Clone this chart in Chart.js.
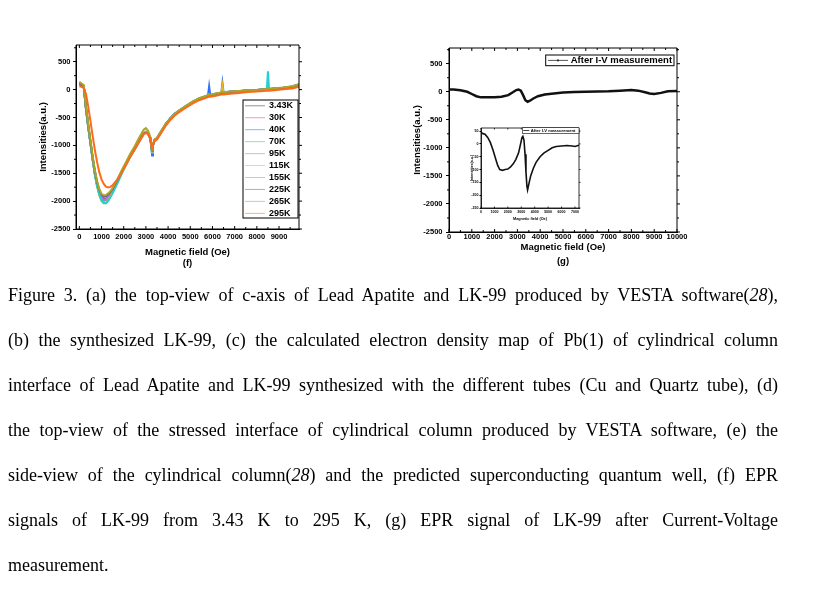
<!DOCTYPE html>
<html lang="en">
<head>
<meta charset="UTF-8">
<title>Figure 3 (f) (g) - EPR signals of LK-99</title>
<script src="https://cdn.jsdelivr.net/npm/chart.js"></script>
<style>
body {
    margin: 0;
    background: #fff;
    width: 832px;
    height: 590px;
    position: relative;
    overflow: hidden;
}
canvas { position: absolute; }
#chartF { left: 0; top: 30px; }
#chartG { left: 400px; top: 30px; }
#inset { left: 462px; top: 122px; }
#caption {
    position: absolute;
    left: 8px;
    top: 273px;
    width: 770px;
    font-family: 'Liberation Serif', 'Times New Roman', serif;
    font-size: 18px;
    color: #000;
}
#caption div {
    height: 45px;
    line-height: 45px;
    white-space: nowrap;
    text-align: justify;
    text-align-last: justify;
}
#caption div.last { text-align-last: left; }
</style>
</head>
<body>

<canvas id="chartF" width="312" height="245"></canvas>
<canvas id="chartG" width="290" height="245"></canvas>
<canvas id="inset" width="122" height="102"></canvas>

<div id="caption">
    <div>Figure 3. (a) the top-view of c-axis of Lead Apatite and LK-99 produced by VESTA software(<i>28</i>),</div>
    <div>(b) the synthesized LK-99, (c) the calculated electron density map of Pb(1) of cylindrical column</div>
    <div>interface of Lead Apatite and LK-99 synthesized with the different tubes (Cu and Quartz tube), (d)</div>
    <div>the top-view of the stressed interface of cylindrical column produced by VESTA software, (e) the</div>
    <div>side-view of the cylindrical column(<i>28</i>) and the predicted superconducting quantum well, (f) EPR</div>
    <div>signals of LK-99 from 3.43 K to 295 K, (g) EPR signal of LK-99 after Current-Voltage</div>
    <div class="last">measurement.</div>
</div>

<script>
// ---- data: panel (f), EPR vs temperature ----
const tempLabels = ['3.43K', '30K', '40K', '70K', '95K', '115K', '155K', '225K', '265K', '295K'];
const fieldsF = [0, 100, 200, 300, 400, 500, 600, 700, 800, 900, 1000, 1100, 1200, 1300, 1400, 1500, 1700, 1900, 2100, 2300,
    2500, 2700, 2900, 3000, 3100, 3200, 3280, 3320, 3400, 3500, 3700, 3900, 4100, 4300, 4500, 4800, 5100, 5400, 5800, 5850,
    5900, 6100, 6400, 6450, 6500, 6800, 7200, 7600, 8000, 8450, 8500, 8550, 8800, 9200, 9600, 9900];
const epr3K = [110, 95, 55, -330, -650, -945, -1235, -1495, -1705, -1845, -1945, -1970, -1960, -1930, -1865, -1815, -1655, -1495, -1335, -1195,
    -1055, -925, -785, -770, -785, -875, -1090, -985, -905, -875, -755, -615, -525, -435, -385, -295, -230, -160, -115, -95,
    -110, -80, -65, -40, -60, -40, -35, -15, -5, 10, 20, 5, 15, 35, 45, 85];
const epr30K = [100, 85, 60, -350, -670, -960, -1250, -1510, -1715, -1860, -1955, -1985, -1975, -1935, -1880, -1820, -1665, -1500, -1345, -1185,
    -1065, -915, -795, -760, -795, -865, -1120, -995, -895, -885, -745, -625, -515, -445, -375, -305, -220, -170, -105, -80,
    -100, -90, -55, -30, -60, -50, -25, -20, -15, 0, 40, 0, 20, 25, 55, 90];
const epr40K = [120, 90, 65, -345, -665, -955, -1245, -1505, -1710, -1855, -1950, -1990, -1980, -1940, -1880, -1815, -1660, -1485, -1330, -1180,
    -1050, -915, -780, -760, -780, -880, -1180, -1000, -900, -870, -740, -620, -515, -430, -380, -300, -220, -165, -100, 60,
    -95, -80, -55, 120, -50, -35, -30, -10, -5, 10, 15, 10, 25, 35, 55, 95];
const epr70K = [105, 80, 50, -335, -655, -950, -1240, -1500, -1705, -1855, -1950, -1985, -1975, -1935, -1875, -1815, -1660, -1490, -1335, -1185,
    -1060, -920, -790, -765, -790, -870, -1105, -990, -900, -880, -745, -615, -515, -440, -380, -300, -225, -160, -110, -85,
    -105, -85, -60, -50, -55, -45, -30, -15, -10, 5, 10, 5, 20, 30, 50, 80];
const epr95K = [110, 90, 55, -340, -660, -950, -1240, -1500, -1700, -1850, -1945, -1980, -1970, -1930, -1870, -1810, -1655, -1490, -1340, -1190,
    -1060, -920, -790, -765, -790, -870, -1100, -990, -900, -880, -750, -620, -520, -440, -380, -300, -225, -165, -110, -100,
    -105, -85, -60, -55, -58, -45, -30, -18, -10, 5, 8, 5, 15, 30, 50, 85];
const epr115K = [130, 100, 70, -330, -650, -950, -1250, -1520, -1740, -1900, -2000, -2040, -2030, -1980, -1910, -1840, -1680, -1505, -1350, -1195,
    -1065, -925, -785, -755, -785, -875, -1130, -1000, -905, -885, -755, -625, -525, -440, -385, -305, -225, -165, -110, -90,
    -100, -85, -55, 80, -55, -45, -30, -20, -10, 5, 10, 5, 15, 30, 50, 90];
const epr155K = [90, 80, 40, -350, -670, -960, -1250, -1520, -1730, -1890, -1990, -2030, -2040, -2000, -1930, -1860, -1695, -1520, -1355, -1200,
    -1070, -930, -790, -770, -795, -880, -1110, -995, -910, -880, -745, -620, -515, -435, -375, -295, -220, -160, -105, -90,
    -100, -80, -55, -50, -55, -40, -25, -10, -5, 10, 330, 10, 20, 35, 55, 90];
const epr225K = [100, 85, 55, -320, -630, -920, -1210, -1460, -1660, -1800, -1890, -1925, -1915, -1885, -1840, -1785, -1640, -1475, -1330, -1180,
    -1055, -915, -790, -770, -790, -870, -1090, -985, -900, -875, -750, -620, -520, -440, -380, -300, -225, -165, -110, -100,
    -105, -85, -60, -55, -58, -45, -30, -18, -10, 5, 8, 5, 15, 30, 50, 85];
const epr265K = [140, 110, 80, -300, -610, -900, -1190, -1440, -1640, -1780, -1870, -1895, -1890, -1860, -1820, -1765, -1620, -1455, -1300, -1145,
    -1010, -860, -720, -690, -740, -850, -1080, -975, -890, -870, -740, -615, -515, -435, -375, -295, -215, -155, -100, -80,
    -95, -75, -50, -40, -48, -35, -25, -12, -5, 10, 15, 10, 25, 40, 60, 95];
const epr295K = [60, 50, 30, -80, -300, -560, -830, -1080, -1300, -1480, -1610, -1690, -1740, -1755, -1745, -1715, -1620, -1490, -1350, -1200,
    -1070, -930, -800, -775, -800, -880, -1060, -990, -920, -895, -770, -645, -545, -465, -405, -325, -250, -190, -135, -130,
    -130, -115, -90, -85, -88, -75, -60, -45, -35, -20, -15, -20, -10, 5, 20, 50];

// ---- data: panel (g), after I-V measurement ----
const fieldsG = [0, 200, 500, 800, 1000, 1200, 1400, 1700, 2000, 2300, 2600, 2800, 2950, 3050, 3150, 3250, 3350, 3450, 3550, 3700,
    3900, 4200, 4600, 5000, 5500, 6000, 6500, 7000, 7500, 8000, 8300, 8600, 8800, 9000, 9300, 9600, 10000];
const eprAfterIV = [40, 40, 25, 0, -40, -80, -100, -100, -100, -90, -60, -10, 30, 40, 20, -60, -150, -180, -160, -120,
    -80, -50, -30, -15, -5, 0, 5, 10, 20, 30, 20, -10, -30, -40, -20, 10, 15];

// inset of (g)
const fieldsInset = [0, 150, 300, 500, 700, 900, 1100, 1250, 1400, 1600, 1800, 2000, 2200, 2400, 2600, 2800, 2950, 3050, 3120, 3200,
    3280, 3350, 3420, 3470, 3550, 3700, 3900, 4100, 4400, 4700, 5000, 5300, 5600, 6000, 6400, 6800, 7000, 7300];
const eprInset = [45, 40, 38, 25, 5, -25, -60, -85, -100, -103, -100, -98, -90, -78, -60, -35, 0, 25, 30, 15,
    -40, -110, -165, -180, -160, -125, -95, -72, -50, -35, -25, -15, -10, -8, -6, -8, -10, -5];

// tick labels
const xTicksF = [0, 1000, 2000, 3000, 4000, 5000, 6000, 7000, 8000, 9000];
const xTicksG = [0, 1000, 2000, 3000, 4000, 5000, 6000, 7000, 8000, 9000, 10000];
const yTicksMain = [-2500, -2000, -1500, -1000, -500, 0, 500];
const xTicksInset = [0, 1000, 2000, 3000, 4000, 5000, 6000, 7000];
const yTicksInset = [-250, -200, -150, -100, -50, 0, 50];

const seriesF = [epr3K, epr30K, epr40K, epr70K, epr95K, epr115K, epr155K, epr225K, epr265K, epr295K];
const colorsF = ['#3c3c3c', '#ff4a4a', '#2f6fff', '#3cc878', '#b070ff', '#e6b422', '#22d2d2', '#7f5f7f', '#a8a828', '#ff6a1a'];

const SANS = "'Liberation Sans', Arial, sans-serif";
function bold(size, lh) {
    return {family: SANS, size: size, weight: 'bold', lineHeight: lh || 1.2};
}
function pts(xs, ys) {
    return xs.map((x, i) => ({x: x, y: ys[i]}));
}
function fixTicks(list) {
    return s => { s.ticks = list.map(v => ({value: v})); };
}

// box round the plot, mirrored and minor ticks
const frame = {
    id: 'frame',
    afterDraw(chart, args, o) {
        const {ctx, chartArea: a} = chart;
        const sx = chart.scales.x, sy = chart.scales.y;
        const L = o.major, m = o.minor;
        ctx.save();
        ctx.strokeStyle = '#000';
        ctx.lineWidth = o.lw;
        ctx.beginPath();
        ctx.rect(a.left, a.top, a.right - a.left, a.bottom - a.top);
        const seg = (x1, y1, x2, y2) => { ctx.moveTo(x1, y1); ctx.lineTo(x2, y2); };
        sx.ticks.forEach(t => {
            const p = sx.getPixelForValue(t.value);
            seg(p, a.bottom, p, a.bottom - L);
            seg(p, a.top, p, a.top + L);
        });
        sy.ticks.forEach(t => {
            const p = sy.getPixelForValue(t.value);
            seg(a.right, p, a.right + L, p);
        });
        if (o.minorX) {
            for (let v = Math.ceil(sx.min / o.minorX) * o.minorX; v <= sx.max; v += o.minorX) {
                if (sx.ticks.some(t => t.value === v)) continue;
                const p = sx.getPixelForValue(v);
                seg(p, a.bottom, p, a.bottom - m);
                seg(p, a.top, p, a.top + m);
            }
        }
        if (o.minorY) {
            for (let v = Math.ceil(sy.min / o.minorY) * o.minorY; v <= sy.max; v += o.minorY) {
                if (sy.ticks.some(t => t.value === v)) continue;
                const p = sy.getPixelForValue(v);
                seg(a.left, p, a.left - m, p);
                seg(a.right, p, a.right + m, p);
            }
        }
        ctx.stroke();
        ctx.restore();
    }
};

// legend drawn as a framed box inside the plot (Origin style)
const boxLegend = {
    id: 'boxLegend',
    afterDraw(chart, args, o) {
        const ctx = chart.ctx;
        ctx.save();
        ctx.fillStyle = '#fff';
        ctx.fillRect(o.x, o.y, o.w, o.h);
        ctx.strokeStyle = '#000';
        ctx.lineWidth = o.lw;
        ctx.strokeRect(o.x, o.y, o.w, o.h);
        ctx.font = (o.bold ? 'bold ' : '') + o.size + 'px ' + SANS;
        ctx.textBaseline = 'middle';
        chart.data.datasets.forEach((ds, i) => {
            const cy = o.y + o.first + i * o.step;
            ctx.globalAlpha = o.alpha;
            ctx.strokeStyle = ds.borderColor;
            ctx.lineWidth = 1;
            ctx.beginPath();
            ctx.moveTo(o.x + o.l0, cy);
            ctx.lineTo(o.x + o.l1, cy);
            ctx.stroke();
            if (o.marker) {
                ctx.fillStyle = ds.borderColor;
                const mx = (o.l0 + o.l1) / 2 + o.x;
                ctx.fillRect(mx - o.marker / 2, cy - o.marker / 2, o.marker, o.marker);
            }
            ctx.globalAlpha = 1;
            ctx.fillStyle = '#000';
            ctx.fillText(ds.label, o.x + o.tx, cy);
        });
        ctx.restore();
    }
};

function baseOptions() {
    return {
        responsive: false,
        animation: false,
        devicePixelRatio: 1,
        events: [],
        elements: {point: {radius: 0}, line: {tension: 0}},
    };
}

// ---- (f) ----
new Chart(document.getElementById('chartF'), {
    type: 'line',
    data: {
        datasets: seriesF.map((vals, i) => ({
            label: tempLabels[i],
            data: pts(fieldsF, vals),
            borderColor: colorsF[i],
            borderWidth: 2,
            order: seriesF.length - 1 - i
        }))
    },
    options: Object.assign(baseOptions(), {
        layout: {padding: {top: 15, right: 13, left: 0, bottom: 0}},
        plugins: {
            legend: {display: false},
            tooltip: {enabled: false},
            frame: {lw: 1, major: 3, minor: 2, minorX: 500, minorY: 250},
            boxLegend: {x: 243, y: 70, w: 55, h: 118, first: 5.8, step: 11.95, l0: 2, l1: 22, tx: 26,
                size: 9, bold: true, alpha: 0.55, lw: 1}
        },
        scales: {
            x: {
                type: 'linear', min: -150, max: 9900,
                afterBuildTicks: fixTicks(xTicksF),
                afterFit: s => { s.height = 46; },
                ticks: {font: bold(7.5), color: '#000', padding: 3, maxRotation: 0, autoSkip: false,
                    callback: v => String(v)},
                grid: {display: true, drawOnChartArea: false, drawTicks: false},
                border: {display: true, color: '#000'},
                title: {display: true, text: ['Magnetic field (Oe)', '(f)'], font: bold(9.5, 1.2), color: '#000',
                    padding: {top: 0, bottom: 5.9}}
            },
            y: {
                type: 'linear', min: -2500, max: 800,
                afterBuildTicks: fixTicks(yTicksMain),
                afterFit: s => { s.width = 76; },
                ticks: {font: bold(7.5), color: '#000', padding: 2.5, autoSkip: false, callback: v => String(v)},
                grid: {display: true, drawOnChartArea: false, drawTicks: true, tickLength: 3, color: '#000'},
                border: {display: true, color: '#000'},
                title: {display: true, text: 'Intensities(a.u.)', font: bold(9.5, 1.2), color: '#000',
                    padding: {top: 37.3, bottom: 0}}
            }
        }
    }),
    plugins: [frame, boxLegend]
});

// ---- (g) ----
new Chart(document.getElementById('chartG'), {
    type: 'line',
    data: {
        datasets: [{
            label: 'After I-V measurement',
            data: pts(fieldsG, eprAfterIV),
            borderColor: '#111',
            borderWidth: 2.5
        }]
    },
    options: Object.assign(baseOptions(), {
        layout: {padding: {top: 18, right: 13, left: 0, bottom: 0}},
        plugins: {
            legend: {display: false},
            tooltip: {enabled: false},
            frame: {lw: 1, major: 3, minor: 2, minorX: 500, minorY: 250},
            boxLegend: {x: 145.7, y: 25, w: 128.3, h: 10.7, first: 5.4, step: 0, l0: 2.3, l1: 22.3, tx: 25,
                size: 9.5, bold: true, alpha: 0.7, lw: 1, marker: 2}
        },
        scales: {
            x: {
                type: 'linear', min: 0, max: 10000,
                afterBuildTicks: fixTicks(xTicksG),
                afterFit: s => { s.height = 43; },
                ticks: {font: bold(7.5), color: '#000', padding: 0.5, maxRotation: 0, autoSkip: false,
                    callback: v => String(v)},
                grid: {display: true, drawOnChartArea: false, drawTicks: false},
                border: {display: true, color: '#000'},
                title: {display: true, text: ['Magnetic field (Oe)', '(g)'], font: bold(9.5, 1.474), color: '#000',
                    padding: {top: 0, bottom: 7}}
            },
            y: {
                type: 'linear', min: -2500, max: 780,
                afterBuildTicks: fixTicks(yTicksMain),
                afterFit: s => { s.width = 49; },
                ticks: {font: bold(7.5), color: '#000', padding: 3.5, autoSkip: false, callback: v => String(v)},
                grid: {display: true, drawOnChartArea: false, drawTicks: true, tickLength: 3, color: '#000'},
                border: {display: true, color: '#000'},
                title: {display: true, text: 'Intensities(a.u.)', font: bold(9.5, 1.2), color: '#000',
                    padding: {top: 11.3, bottom: 0}}
            }
        }
    }),
    plugins: [frame, boxLegend]
});

// ---- inset of (g) ----
new Chart(document.getElementById('inset'), {
    type: 'line',
    data: {
        datasets: [{
            label: 'After I-V measurement',
            data: pts(fieldsInset, eprInset),
            borderColor: '#111',
            borderWidth: 1.6
        }]
    },
    options: Object.assign(baseOptions(), {
        layout: {padding: {top: 6, right: 5, left: 0, bottom: 0}},
        plugins: {
            legend: {display: false},
            tooltip: {enabled: false},
            frame: {lw: 0.8, major: 1.5, minor: 1, minorX: 0, minorY: 0},
            boxLegend: {x: 60.3, y: 5.7, w: 56.7, h: 5.6, first: 2.8, step: 0, l0: 1, l1: 7, tx: 8.5,
                size: 4.2, bold: true, alpha: 0.8, lw: 0.6}
        },
        scales: {
            x: {
                type: 'linear', min: 0, max: 7300,
                afterBuildTicks: fixTicks(xTicksInset),
                afterFit: s => { s.height = 16; },
                ticks: {font: bold(3.6), color: '#000', padding: 1.5, maxRotation: 0, autoSkip: false,
                    callback: v => String(v)},
                grid: {display: true, drawOnChartArea: false, drawTicks: false},
                border: {display: true, color: '#000', width: 0.8},
                title: {display: true, text: 'Magnetic field (Oe)', font: bold(3.8, 1.2), color: '#000',
                    padding: {top: 0, bottom: 2.7}}
            },
            y: {
                type: 'linear', min: -250, max: 62,
                afterBuildTicks: fixTicks(yTicksInset),
                afterFit: s => { s.width = 19; },
                ticks: {font: bold(3.6), color: '#000', padding: 1, autoSkip: false, callback: v => String(v)},
                grid: {display: true, drawOnChartArea: false, drawTicks: true, tickLength: 1.5, color: '#000'},
                border: {display: true, color: '#000', width: 0.8},
                title: {display: true, text: 'Intensities(a.u.)', font: bold(3.6, 1.2), color: '#000',
                    padding: {top: 8, bottom: 0}}
            }
        }
    }),
    plugins: [frame, boxLegend]
});
</script>
</body>
</html>
